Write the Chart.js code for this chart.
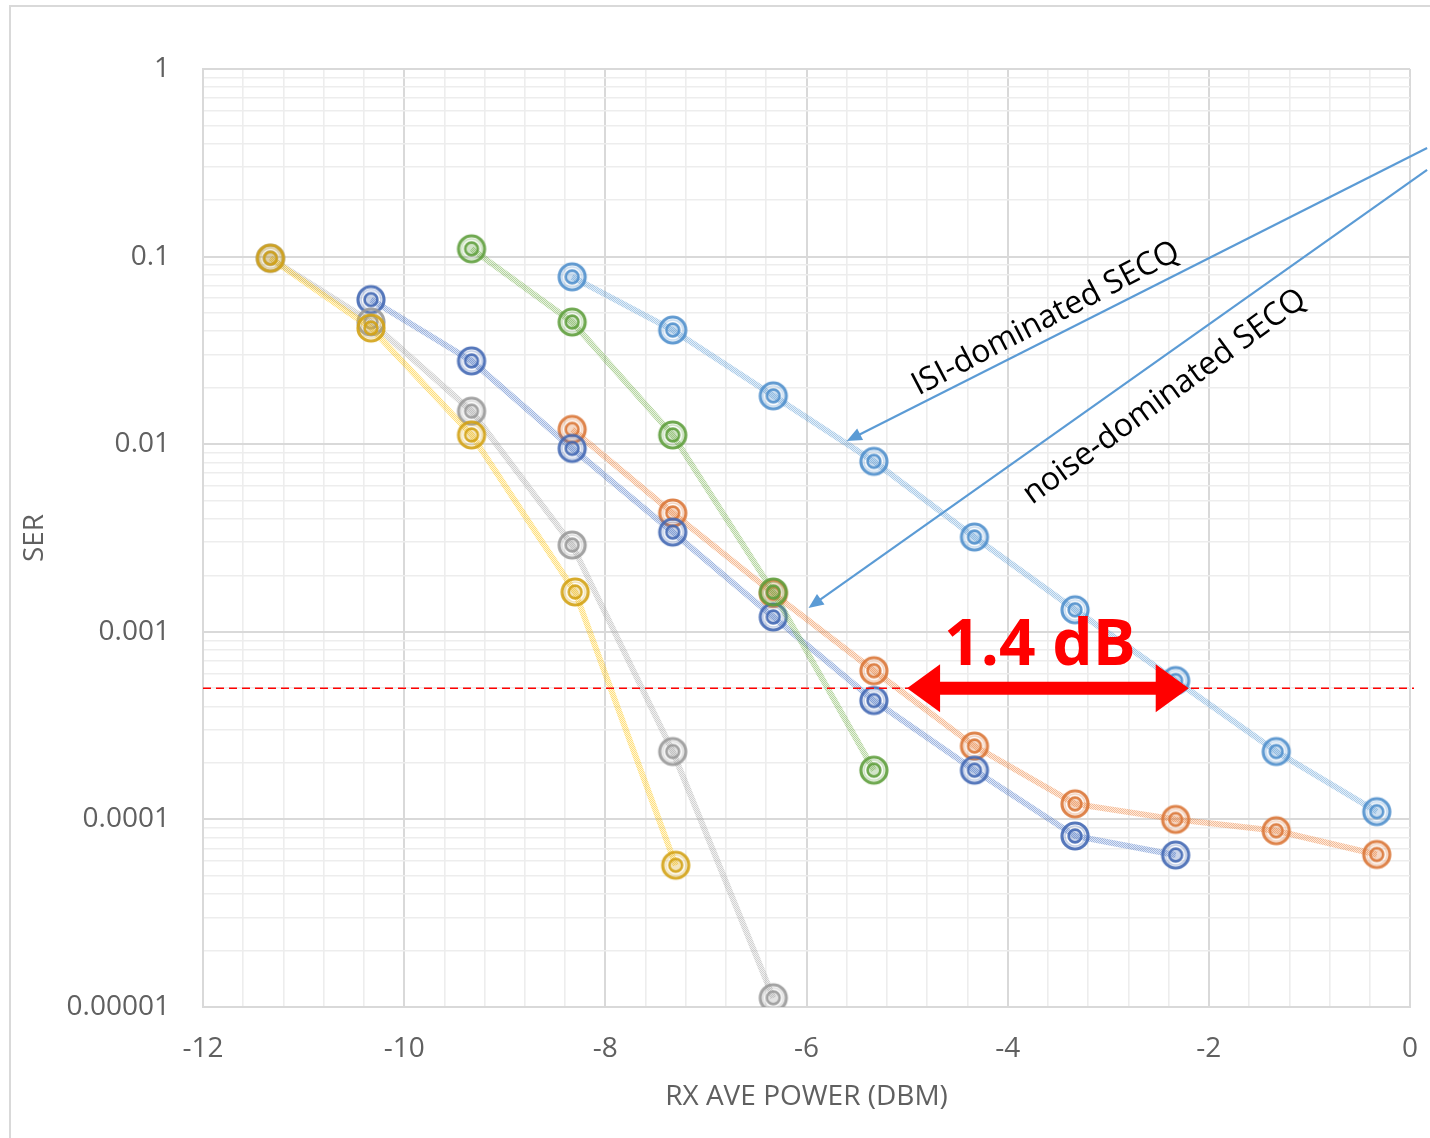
<!DOCTYPE html>
<html>
<head>
<meta charset="utf-8">
<script src="https://cdn.jsdelivr.net/npm/chart.js@4.4.1/dist/chart.umd.min.js"></script>
<style>
  html, body { margin: 0; padding: 0; background: #fff; overflow: hidden; }
  #frame { position: absolute; left: 9px; top: 5px; width: 1500px; height: 1300px;
           border-left: 2px solid #d9d9d9; border-top: 2px solid #d9d9d9; }
  #wrap { position: absolute; left: 0; top: 0; width: 1430px; height: 1138px; }
</style>
</head>
<body>
<div id="frame"></div>
<div id="wrap"><canvas id="c" width="1430" height="1138"></canvas></div>
<script>
// Received average power (dBm) at each measurement step
const power       = [-11.33, -10.33, -9.33, -8.33, -7.33, -6.33, -5.33, -4.33, -3.33, -2.33, -1.33, -0.33];
const powerYellow = [-11.33, -10.33, -9.33, -8.3, -7.3];

// Symbol error rate per configuration (null = not measured)
const serIsiSecq   = [null, null, null, 0.078, 0.0406, 0.0181, 0.0081, 0.0032, 0.00131, 0.00055, 0.00023, 0.00011];
const serNoiseSecq = [null, null, null, 0.012, 0.0043, 0.0016, 0.00062, 0.000246, 0.000121, 0.0001, 0.000087, 0.000065];
const serBlue      = [null, 0.059, 0.0278, 0.0095, 0.0034, 0.0012, 0.00043, 0.000183, 0.0000816, 0.0000646, null, null];
const serGray      = [0.098, 0.0448, 0.015, 0.0029, 0.00023, 0.0000112, null, null, null, null, null, null];
const serYellow    = [0.098, 0.0416, 0.0112, 0.00163, 0.000057];
const serGreen     = [null, null, 0.11, 0.0448, 0.0112, 0.00163, 0.000183, null, null, null, null, null];

// Axis tick labels
const xTickValues = [-12, -10, -8, -6, -4, -2, 0];
const xTickLabels = ['-12', '-10', '-8', '-6', '-4', '-2', '0'];
const yTickValues = [1, 0.1, 0.01, 0.001, 0.0001, 0.00001];
const yTickLabels = ['1', '0.1', '0.01', '0.001', '0.0001', '0.00001'];

// Reference SER level and the annotated power gap
const serTarget = 5e-4;
const gapFrom = -5.0, gapTo = -2.2;
const gapLabel = '1.4 dB';

function points(xs, ys) {
  const out = [];
  ys.forEach((v, i) => { if (v != null) out.push({ x: xs[i], y: v }); });
  return out;
}

function rgb(hex) {
  const n = parseInt(hex.slice(1), 16);
  return [(n >> 16) & 255, (n >> 8) & 255, n & 255];
}

// Double-ring marker
function ringMarker(hex) {
  const [r, g, b] = rgb(hex);
  const col = a => `rgba(${r},${g},${b},${a})`;
  const c = document.createElement('canvas');
  c.width = c.height = 34;
  const x = c.getContext('2d');
  x.lineWidth = 3.2; x.strokeStyle = col(0.9);
  x.beginPath(); x.arc(17, 17, 13, 0, Math.PI * 2); x.stroke();
  x.lineWidth = 1.6; x.strokeStyle = col(0.3);
  x.beginPath(); x.arc(17, 17, 10, 0, Math.PI * 2); x.stroke();
  x.fillStyle = col(0.28);
  x.beginPath(); x.arc(17, 17, 6.2, 0, Math.PI * 2); x.fill();
  x.lineWidth = 2.6; x.strokeStyle = col(0.9);
  x.beginPath(); x.arc(17, 17, 6.4, 0, Math.PI * 2); x.stroke();
  return c;
}

// Light textured stroke for the connecting lines
function lineTexture(hex) {
  const [r, g, b] = rgb(hex);
  const c = document.createElement('canvas');
  c.width = c.height = 2;
  const x = c.getContext('2d');
  x.fillStyle = `rgba(${r},${g},${b},0.16)`; x.fillRect(0, 0, 2, 2);
  x.fillStyle = `rgba(${r},${g},${b},0.42)`; x.fillRect(0, 0, 1, 1); x.fillRect(1, 1, 1, 1);
  return x.createPattern(c, 'repeat');
}

function series(label, xs, ys, lineHex, markHex) {
  return {
    label,
    data: points(xs, ys),
    borderColor: lineTexture(lineHex),
    borderWidth: 6,
    pointStyle: ringMarker(markHex || lineHex),
    pointRadius: 14,
    tension: 0,
    fill: false
  };
}

// First dataset is painted on top
const datasets = [
  series('Case G', power, serGreen, '#70AD47', '#5E9E3C'),
  series('ISI-dominated SECQ', power, serIsiSecq, '#5B9BD5', '#4F8FCC'),
  series('Case Y', powerYellow, serYellow, '#FFC000', '#D3A214'),
  series('Case K', power, serGray, '#A5A5A5', '#999999'),
  series('Case B', power, serBlue, '#4472C4', '#4268B4'),
  series('noise-dominated SECQ', power, serNoiseSecq, '#ED7D31', '#DA7536')
];

// Callout arrows with their captions (data coordinates)
const callouts = [
  { text: 'ISI-dominated SECQ',   tip: [-5.6, 0.0104],  tail: [0.17, 0.379], at: [-3.62, 0.0466] },
  { text: 'noise-dominated SECQ', tip: [-5.98, 0.00134], tail: [0.17, 0.29],  at: [-2.44, 0.0179] }
];

const annotate = {
  id: 'annotate',
  afterDatasetsDraw(chart) {
    const { ctx, chartArea: a, scales: { x, y } } = chart;
    ctx.save();

    // dashed target line
    const yt = y.getPixelForValue(serTarget);
    ctx.strokeStyle = '#ff0000';
    ctx.lineWidth = 1.5;
    ctx.setLineDash([8, 5]);
    ctx.beginPath(); ctx.moveTo(a.left, yt); ctx.lineTo(a.right + 4, yt); ctx.stroke();
    ctx.setLineDash([]);

    // double-headed gap arrow
    const x0 = x.getPixelForValue(gapFrom), x1 = x.getPixelForValue(gapTo);
    const head = 33, hh = 24, sh = 6.5;
    ctx.fillStyle = '#ff0000';
    ctx.beginPath();
    ctx.moveTo(x0, yt);
    ctx.lineTo(x0 + head, yt - hh); ctx.lineTo(x0 + head, yt - sh);
    ctx.lineTo(x1 - head, yt - sh); ctx.lineTo(x1 - head, yt - hh);
    ctx.lineTo(x1, yt);
    ctx.lineTo(x1 - head, yt + hh); ctx.lineTo(x1 - head, yt + sh);
    ctx.lineTo(x0 + head, yt + sh); ctx.lineTo(x0 + head, yt + hh);
    ctx.closePath(); ctx.fill();

    ctx.font = 'bold 64px "Open Sans"';
    ctx.textAlign = 'center';
    ctx.textBaseline = 'alphabetic';
    ctx.fillText(gapLabel, x.getPixelForValue(-3.68), y.getPixelForValue(6.65e-4));

    // blue callouts
    callouts.forEach(c => {
      const tx = x.getPixelForValue(c.tip[0]), ty = y.getPixelForValue(c.tip[1]);
      const sx = x.getPixelForValue(c.tail[0]), sy = y.getPixelForValue(c.tail[1]);
      const ang = Math.atan2(ty - sy, tx - sx);
      ctx.strokeStyle = '#5B9BD5';
      ctx.fillStyle = '#5B9BD5';
      ctx.lineWidth = 2.2;
      ctx.beginPath();
      ctx.moveTo(sx, sy);
      ctx.lineTo(tx - Math.cos(ang) * 10, ty - Math.sin(ang) * 10);
      ctx.stroke();
      ctx.save();
      ctx.translate(tx, ty); ctx.rotate(ang);
      ctx.beginPath(); ctx.moveTo(0, 0); ctx.lineTo(-15, -6.5); ctx.lineTo(-15, 6.5); ctx.closePath(); ctx.fill();
      ctx.restore();

      ctx.save();
      ctx.translate(x.getPixelForValue(c.at[0]), y.getPixelForValue(c.at[1]));
      ctx.rotate(ang - Math.PI - 0.015);
      ctx.fillStyle = '#000';
      ctx.font = '32px "Open Sans"';
      ctx.textAlign = 'center';
      ctx.textBaseline = 'middle';
      ctx.fillText(c.text, 0, 0);
      ctx.restore();
    });

    ctx.restore();
  }
};

const xMinor = [];
for (let i = 0; i <= 30; i++) xMinor.push(Math.round((-12 + i * 0.4) * 10) / 10);
const yMinor = [];
for (let e = -5; e <= 0; e++) {
  for (let m = 1; m <= 9; m++) {
    if (e === 0 && m > 1) break;
    yMinor.push(Number((m * Math.pow(10, e)).toPrecision(3)));
  }
}

const isXMajor = v => xTickValues.some(t => Math.abs(t - v) < 1e-6);
const isYMajor = v => yTickValues.some(t => Math.abs(t - v) / t < 1e-6);

const tickFont = { family: '"Open Sans"', size: 28 };
const tickColor = '#606060';

new Chart(document.getElementById('c'), {
  type: 'line',
  data: { datasets },
  options: {
    responsive: false,
    animation: false,
    events: [],
    layout: { padding: { top: 69, right: 15, left: 0, bottom: 0 } },
    plugins: { legend: { display: false }, tooltip: { enabled: false } },
    scales: {
      x: {
        type: 'linear', min: -12, max: 0,
        afterBuildTicks: s => { s.ticks = xMinor.map(v => ({ value: v })); },
        afterFit: s => { s.height = 131; s.paddingLeft = 0; s.paddingRight = 0; },
        ticks: {
          autoSkip: false, maxRotation: 0, padding: 25, font: tickFont, color: tickColor,
          callback: v => { const i = xTickValues.findIndex(t => Math.abs(t - v) < 1e-6); return i < 0 ? '' : xTickLabels[i]; }
        },
        grid: {
          drawTicks: false,
          color: c => isXMajor(c.tick.value) ? '#d9d9d9' : '#ededed',
          lineWidth: c => isXMajor(c.tick.value) ? 2 : 1.6
        },
        border: { color: '#d9d9d9', width: 2 },
        title: { display: true, text: 'RX AVE POWER (DBM)', color: tickColor,
                 font: { family: '"Open Sans"', size: 28 }, padding: { top: 0, bottom: 24 } }
      },
      y: {
        type: 'logarithmic', min: 0.00001, max: 1,
        afterBuildTicks: s => { s.ticks = yMinor.map(v => ({ value: v })); },
        afterFit: s => { s.width = 203; },
        ticks: {
          autoSkip: false, padding: 33, font: tickFont, color: tickColor,
          callback: v => { const i = yTickValues.findIndex(t => Math.abs(t - v) / t < 1e-6); return i < 0 ? '' : yTickLabels[i]; }
        },
        grid: {
          drawTicks: false,
          color: c => isYMajor(c.tick.value) ? '#d9d9d9' : '#ededed',
          lineWidth: c => isYMajor(c.tick.value) ? 2 : 1.6
        },
        border: { color: '#d9d9d9', width: 2 },
        title: { display: true, text: 'SER', color: tickColor,
                 font: { family: '"Open Sans"', size: 28 }, padding: { top: 18, bottom: 0 } }
      }
    }
  },
  plugins: [annotate]
});
</script>
</body>
</html>
